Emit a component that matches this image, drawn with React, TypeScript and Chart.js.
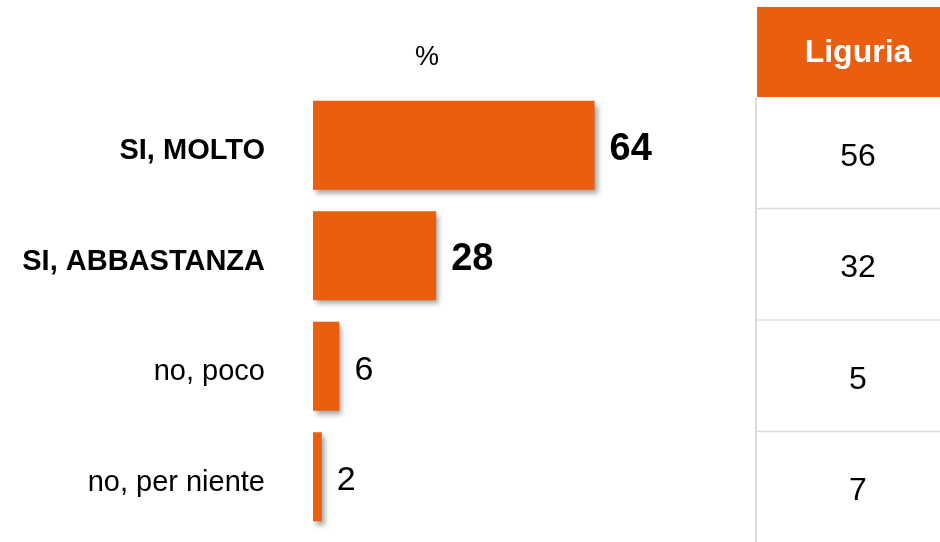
import React, { useEffect, useRef } from "react";
import { Chart, registerables } from "chart.js";

Chart.register(...registerables);

const categories = ["SI, MOLTO", "SI, ABBASTANZA", "no, poco", "no, per niente"];
const values = [64, 28, 6, 2];
const boldRows = [true, true, false, false];
const tableHeader = "Liguria";
const tableValues = [56, 32, 5, 7];
const unitLabel = "%";

const ORANGE = "#E95E0F";
const FONT = "'Liberation Sans', Arial, sans-serif";

const shadowPlugin = {
  id: "barShadow",
  beforeDatasetsDraw(chart: any) {
    const ctx = chart.ctx;
    ctx.save();
    ctx.shadowColor = "rgba(0,0,0,0.35)";
    ctx.shadowOffsetX = 3;
    ctx.shadowOffsetY = 4;
    ctx.shadowBlur = 5;
  },
  afterDatasetsDraw(chart: any) {
    chart.ctx.restore();
  },
};

const overlayPlugin = {
  id: "overlay",
  afterDraw(chart: any) {
    const ctx = chart.ctx;
    const meta = chart.getDatasetMeta(0);
    ctx.save();
    meta.data.forEach((bar: any, i: number) => {
      const bold = boldRows[i];
      ctx.font = `${bold ? "bold " : ""}${bold ? 38 : 34}px ${FONT}`;
      ctx.fillStyle = "#000";
      ctx.textAlign = "left";
      ctx.textBaseline = "middle";
      ctx.fillText(String(values[i]), bar.x + 15, bar.y + 4);
    });
    ctx.font = `27px ${FONT}`;
    ctx.textAlign = "center";
    ctx.textBaseline = "middle";
    ctx.fillText(unitLabel, 427, 58);

    const tLeft = 757;
    const tRight = chart.width;
    const tCenter = 858;
    const headTop = 7;
    const headBottom = 97;
    ctx.fillStyle = ORANGE;
    ctx.fillRect(tLeft, headTop, tRight - tLeft, headBottom - headTop);
    ctx.fillStyle = "#fff";
    ctx.font = `bold 32px ${FONT}`;
    ctx.fillText(tableHeader, tCenter, (headTop + headBottom) / 2 + 1);

    const rowH = 111.5;
    ctx.strokeStyle = "#dcdcdc";
    ctx.lineWidth = 2;
    ctx.beginPath();
    ctx.moveTo(tLeft - 1, headBottom);
    ctx.lineTo(tLeft - 1, chart.height);
    ctx.stroke();
    ctx.lineWidth = 1.5;
    for (let i = 1; i < tableValues.length; i++) {
      const y = headBottom + rowH * i;
      ctx.beginPath();
      ctx.moveTo(tLeft, y);
      ctx.lineTo(tRight, y);
      ctx.stroke();
    }
    ctx.fillStyle = "#000";
    ctx.font = `32px ${FONT}`;
    tableValues.forEach((v, i) => {
      const cy = headBottom + rowH * i + rowH / 2 + 4;
      ctx.fillText(String(v), tCenter, cy);
    });
    ctx.restore();
  },
};

export default function App() {
  const ref = useRef<HTMLCanvasElement | null>(null);
  useEffect(() => {
    if (!ref.current) return;
    const chart = new Chart(ref.current, {
      type: "bar",
      data: {
        labels: categories,
        datasets: [
          {
            data: values,
            backgroundColor: ORANGE,
            borderWidth: 0,
            barPercentage: 0.807,
            categoryPercentage: 1,
          },
        ],
      },
      options: {
        indexAxis: "y",
        animation: false,
        responsive: true,
        maintainAspectRatio: false,
        layout: { padding: { top: 90, bottom: 10, left: 0, right: 187 } },
        plugins: { legend: { display: false }, tooltip: { enabled: false }, title: { display: false } },
        scales: {
          x: { display: false, min: 0, max: 100 },
          y: {
            grid: { display: false, drawTicks: true, tickLength: 48 },
            border: { display: false },
            afterFit: (scale: any) => {
              scale.width = 313;
            },
            ticks: {
              padding: 0,
              labelOffset: 6,
              color: "#000",
              font: (c: any) => ({
                family: FONT,
                size: 29,
                lineHeight: 0.6,
                weight: boldRows[c.index] ? "bold" : "normal",
              }),
            },
          },
        },
      },
      plugins: [shadowPlugin, overlayPlugin],
    } as any);
    return () => chart.destroy();
  }, []);
  return (
    <div style={{ position: "fixed", left: 0, top: 0, width: 940, height: 542, background: "#fff" }}>
      <canvas ref={ref} />
    </div>
  );
}
